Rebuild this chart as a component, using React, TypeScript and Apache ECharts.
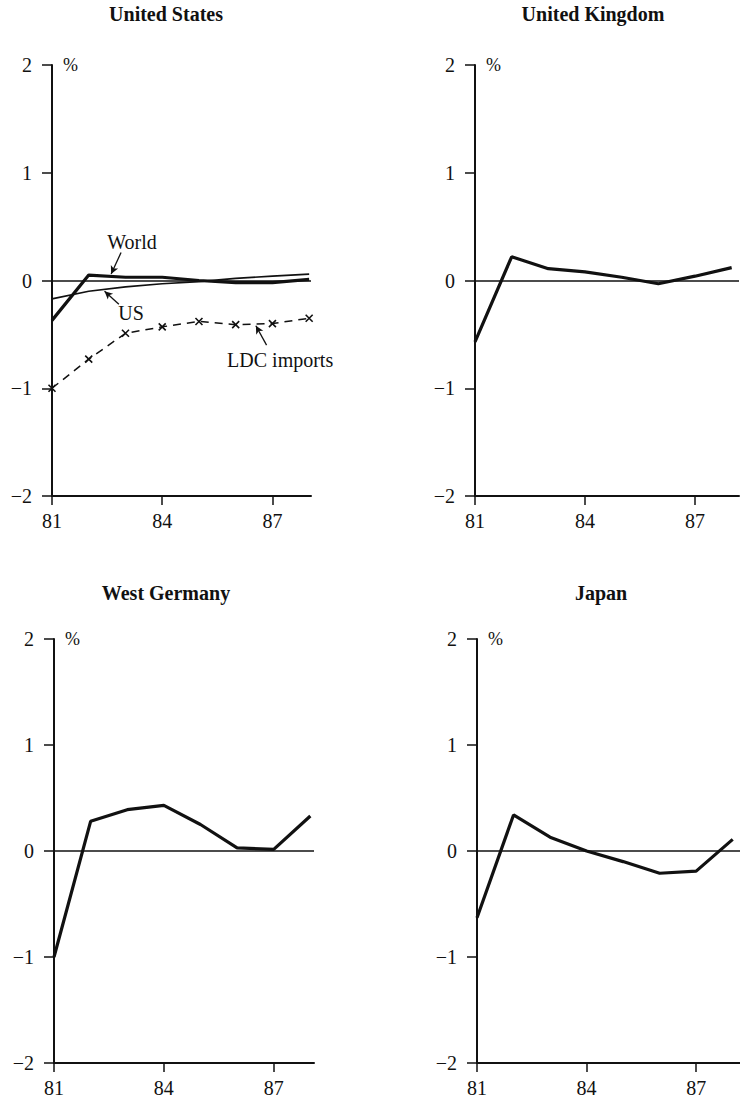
import React, { useEffect, useRef } from "react";
import * as echarts from "echarts";

// ---- data ----
const years = [81, 82, 83, 84, 85, 86, 87, 88];
const usWorld = [-0.37, 0.05, 0.03, 0.03, 0.0, -0.02, -0.02, 0.01];
const usUS = [-0.17, -0.1, -0.06, -0.03, -0.01, 0.02, 0.04, 0.06];
const usLDC = [-1.0, -0.73, -0.49, -0.43, -0.38, -0.41, -0.4, -0.35];
const ukValues = [-0.57, 0.22, 0.11, 0.08, 0.03, -0.03, 0.04, 0.12];
const wgValues = [-1.0, 0.28, 0.39, 0.43, 0.25, 0.03, 0.015, 0.33];
const jpValues = [-0.63, 0.34, 0.13, 0.0, -0.1, -0.21, -0.19, 0.11];
const xTickValues = [81, 84, 87];
const yTickValues = [-2, -1, 0, 1, 2];
const panelTitles = ["United States", "United Kingdom", "West Germany", "Japan"];
const annotationTexts = ["World", "US", "LDC imports"];
const annotationAt = [
  [83.18, 0.36],
  [83.15, -0.3],
  [87.21, -0.74],
];
const arrowFrom = [
  [82.88, 0.26],
  [82.82, -0.22],
  [86.84, -0.6],
];
const arrowTo = [
  [82.61, 0.06],
  [82.43, -0.1],
  [86.55, -0.42],
];

// ---- layout ----
const FONT = "'Liberation Serif', 'Times New Roman', serif";
const INK = "#111";
const grids = [
  { left: 52, top: 65, width: 259, height: 431, max: 88.05 },
  { left: 475, top: 65, width: 264, height: 431, max: 88.2 },
  { left: 54, top: 639, width: 260, height: 424, max: 88.1 },
  { left: 477, top: 639, width: 263, height: 424, max: 88.2 },
];
const titlePos = [
  [166, 14],
  [593, 14],
  [166, 593],
  [601, 593],
];

const pairs = (vals: number[]) => years.map((y, i) => [y, vals[i]]);
const fmtY = (v: number) => (v < 0 ? "\u2212" + Math.abs(v) : String(v));

export default function App() {
  const ref = useRef<HTMLDivElement>(null);
  useEffect(() => {
    document.body.style.margin = "0";
    const chart = echarts.init(ref.current!, undefined, { renderer: "svg" });

    const xAxes = grids.map((g, i) => ({
      type: "value",
      gridIndex: i,
      min: 81,
      max: g.max,
      interval: 3,
      splitLine: { show: false },
      axisLine: { onZero: false, lineStyle: { color: INK, width: 2 } },
      axisTick: {
        show: true,
        length: 9,
        customValues: xTickValues,
        lineStyle: { color: INK, width: 1.5 },
      },
      axisLabel: {
        customValues: xTickValues,
        margin: 15,
        fontSize: 20,
        fontFamily: FONT,
        color: INK,
        formatter: (v: number) => String(v),
      },
    }));

    const yAxes = grids.map((g, i) => ({
      type: "value",
      gridIndex: i,
      min: -2,
      max: 2,
      interval: 1,
      name: "%",
      nameLocation: "end",
      nameGap: 0,
      nameTextStyle: {
        align: "left",
        verticalAlign: "middle",
        padding: [0, 0, 0, 11],
        fontSize: 18,
        fontFamily: FONT,
        color: INK,
      },
      splitLine: { show: false },
      axisLine: { show: true, onZero: false, lineStyle: { color: INK, width: 2 } },
      axisTick: { show: true, length: 10, lineStyle: { color: INK, width: 1.5 } },
      axisLabel: {
        customValues: yTickValues,
        margin: 20,
        fontSize: 20,
        fontFamily: FONT,
        color: INK,
        formatter: fmtY,
      },
    }));

    const zeroLine = {
      silent: true,
      symbol: ["none", "none"],
      label: { show: false },
      lineStyle: { color: INK, width: 1.5, type: "solid" },
      data: [{ yAxis: 0 }],
    };

    const thick = (vals: number[], idx: number, name: string, extra: any = {}) => ({
      type: "line",
      name,
      xAxisIndex: idx,
      yAxisIndex: idx,
      data: pairs(vals),
      showSymbol: false,
      symbol: "none",
      lineStyle: { color: INK, width: 3.2 },
      z: 3,
      ...extra,
    });

    const series: any[] = [
      thick(usWorld, 0, "World", {
        markLine: zeroLine,
        markPoint: {
          symbol: "circle",
          symbolSize: 0,
          silent: true,
          label: {
            show: true,
            position: "inside",
            formatter: "{b}",
            fontSize: 20,
            fontFamily: FONT,
            color: INK,
          },
          data: annotationTexts.map((t, i) => ({ name: t, coord: annotationAt[i] })),
        },
      }),
      {
        type: "line",
        name: "US",
        xAxisIndex: 0,
        yAxisIndex: 0,
        data: pairs(usUS),
        showSymbol: false,
        symbol: "none",
        lineStyle: { color: INK, width: 1.7 },
        markLine: {
          silent: true,
          symbol: ["none", "arrow"],
          symbolSize: [6, 8],
          label: { show: false },
          lineStyle: { color: INK, width: 1.3, type: "solid" },
          data: arrowFrom.map((f, i) => [{ coord: f }, { coord: arrowTo[i] }]),
        },
      },
      {
        type: "line",
        name: "LDC imports",
        xAxisIndex: 0,
        yAxisIndex: 0,
        data: pairs(usLDC),
        symbol: "path://M0 0L10 10M10 0L0 10",
        symbolSize: 7,
        showSymbol: true,
        itemStyle: { color: INK, borderColor: INK, borderWidth: 1.6 },
        lineStyle: { color: INK, width: 1.5, type: [8, 6] },
      },
      thick(ukValues, 1, "United Kingdom", { markLine: zeroLine }),
      thick(wgValues, 2, "West Germany", { markLine: zeroLine }),
      thick(jpValues, 3, "Japan", { markLine: zeroLine }),
    ];

    chart.setOption({
      animation: false,
      backgroundColor: "#fff",
      textStyle: { fontFamily: FONT },
      grid: grids.map((g) => ({
        left: g.left,
        top: g.top,
        width: g.width,
        height: g.height,
        containLabel: false,
        outerBoundsMode: "none",
      })),
      xAxis: xAxes,
      yAxis: yAxes,
      series,
      graphic: panelTitles.map((t, i) => ({
        type: "text",
        x: titlePos[i][0],
        y: titlePos[i][1],
        style: {
          text: t,
          align: "center",
          verticalAlign: "middle",
          fontSize: 20,
          fontWeight: "bold",
          fontFamily: FONT,
          fill: INK,
        },
      })),
    });
    return () => chart.dispose();
  }, []);
  return <div ref={ref} style={{ width: 740, height: 1105 }} />;
}
